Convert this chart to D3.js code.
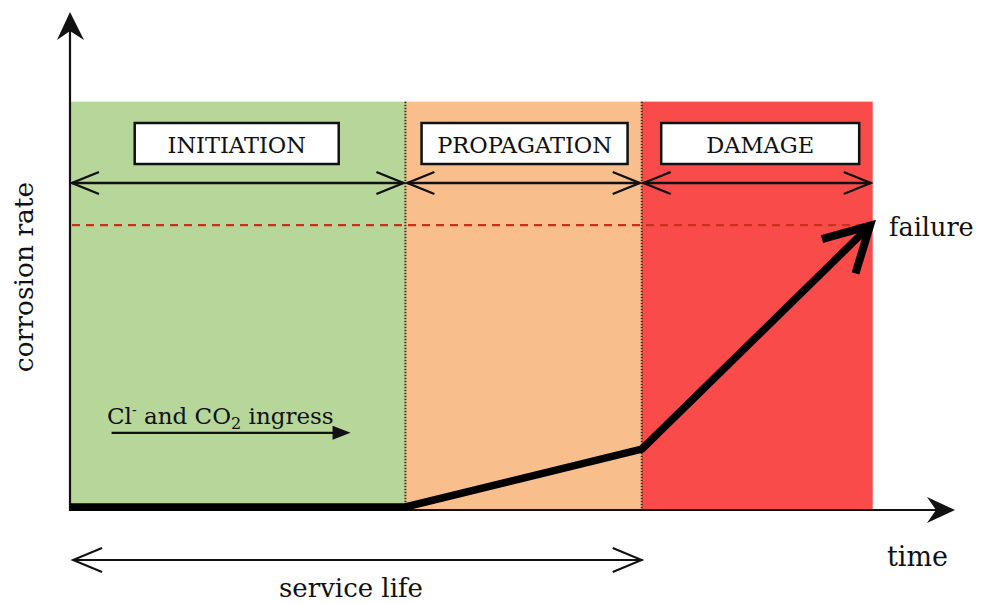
<!DOCTYPE html>
<html>
<head>
<meta charset="utf-8">
<script src="https://cdn.jsdelivr.net/npm/d3@7/dist/d3.min.js"></script>
<style>
html,body{margin:0;padding:0;background:#fff;}
svg{display:block;}
text{font-family:"DejaVu Serif","Liberation Serif",serif;fill:#111;}
</style>
</head>
<body>
<svg id="chart" width="982" height="603"></svg>
<script>
// ---- data (time and corrosion-rate in relative units) ----
const phases = ["INITIATION", "PROPAGATION", "DAMAGE"];
const phaseStart = [0.000, 0.379, 0.646];
const phaseEnd   = [0.379, 0.646, 0.907];
const phaseColors = ["#b7d699", "#f8be8c", "#fa4b4b"];
const phaseTop = 0.82;            // top of shaded area (rate units)
const failureLevel = 0.572;       // failure threshold (rate units)
const curveTime = [0.000, 0.379, 0.646, 0.904];
const curveRate = [0.000, 0.000, 0.116, 0.565];
const serviceLife = [0.000, 0.646];
const ingress = [0.047, 0.317];
const ingressRate = 0.155;

const W = 982, H = 603;
const svg = d3.select("#chart");
const x = d3.scaleLinear().domain([0, 1]).range([70, 955]);
const y = d3.scaleLinear().domain([0, 1]).range([510, 12]);

// phase regions
svg.selectAll("rect.phase").data(phases).enter().append("rect")
  .attr("x", (d,i) => x(phaseStart[i]))
  .attr("width", (d,i) => x(phaseEnd[i]) - x(phaseStart[i]))
  .attr("y", y(phaseTop))
  .attr("height", y(0) - y(phaseTop))
  .attr("fill", (d,i) => phaseColors[i]);

// dotted dividers
svg.selectAll("line.div").data(phaseStart.slice(1)).enter().append("line")
  .attr("x1", d => x(d)).attr("x2", d => x(d))
  .attr("y1", y(phaseTop)).attr("y2", y(0))
  .attr("stroke", "#3a2a1a").attr("stroke-width", 2)
  .attr("stroke-dasharray", "1.5,1.5");

// failure dashed line
svg.append("line")
  .attr("x1", x(0)+2).attr("x2", x(phaseEnd[2]))
  .attr("y1", y(failureLevel)).attr("y2", y(failureLevel))
  .attr("stroke", "#c8321a").attr("stroke-width", 2.2)
  .attr("stroke-dasharray", "8,6");

// phase label boxes
const boxW = [204, 206, 198];
phases.forEach((p, i) => {
  const cx = (x(phaseStart[i]) + x(phaseEnd[i])) / 2 + (i === 0 ? -1 : (i === 1 ? 1 : 3));
  svg.append("rect")
    .attr("x", cx - boxW[i]/2).attr("y", 123)
    .attr("width", boxW[i]).attr("height", 41)
    .attr("fill", "#fff").attr("stroke", "#111").attr("stroke-width", 2.5);
  svg.append("text").attr("x", cx).attr("y", 153)
    .attr("text-anchor", "middle").attr("font-size", 22.5).text(p);
});

// open double arrows
function openHead(g, tx, ty, dir, len, half, sw) {
  g.append("path")
    .attr("d", `M${tx + dir*len},${ty - half}L${tx},${ty}L${tx + dir*len},${ty + half}`)
    .attr("fill", "none").attr("stroke", "#111").attr("stroke-width", sw)
    .attr("stroke-linejoin", "miter");
}
function doubleArrow(x1, x2, yy, len, half, sw) {
  const g = svg.append("g");
  g.append("line").attr("x1", x1).attr("x2", x2).attr("y1", yy).attr("y2", yy)
    .attr("stroke", "#111").attr("stroke-width", sw);
  openHead(g, x1, yy, 1, len, half, sw);
  openHead(g, x2, yy, -1, len, half, sw);
}
phases.forEach((p, i) => {
  doubleArrow(x(phaseStart[i]) + 2, x(phaseEnd[i]) - 2, 183, 27, 11, 2.4);
});
doubleArrow(x(serviceLife[0]) + 3, x(serviceLife[1]), 560, 29, 12, 2);

// axes
svg.append("line").attr("x1", x(0)).attr("x2", x(0)).attr("y1", y(0)+1).attr("y2", y(1)+12)
  .attr("stroke", "#111").attr("stroke-width", 2.2);
svg.append("path")
  .attr("d", `M${x(0)},${y(1)}L${x(0)-13},${y(1)+28}L${x(0)},${y(1)+19}L${x(0)+14},${y(1)+28}Z`)
  .attr("fill", "#111");
svg.append("line").attr("x1", x(0)-1).attr("x2", x(1)-12).attr("y1", y(0)).attr("y2", y(0))
  .attr("stroke", "#111").attr("stroke-width", 2.2);
svg.append("path")
  .attr("d", `M${x(1)},${y(0)}L${x(1)-28},${y(0)-13}L${x(1)-19},${y(0)}L${x(1)-28},${y(0)+13}Z`)
  .attr("fill", "#111");

// corrosion curve
const pts = curveTime.map((t, i) => [x(t), y(curveRate[i]) - 3]);
svg.append("path")
  .attr("d", d3.line()(pts))
  .attr("fill", "none").attr("stroke", "#000").attr("stroke-width", 7.5)
  .attr("stroke-linejoin", "round");
// arrow head at the end of the curve
{
  const [tx, ty] = pts[pts.length-1];
  const [px, py] = pts[pts.length-2];
  const ang = Math.atan2(py - ty, px - tx);
  const a = 0.50, L = 50;
  const p1 = [tx + L*Math.cos(ang - a), ty + L*Math.sin(ang - a)];
  const p2 = [tx + L*Math.cos(ang + a), ty + L*Math.sin(ang + a)];
  svg.append("path")
    .attr("d", `M${p1[0]},${p1[1]}L${tx},${ty}L${p2[0]},${p2[1]}`)
    .attr("fill", "none").attr("stroke", "#000").attr("stroke-width", 8)
    .attr("stroke-linejoin", "miter").attr("stroke-linecap", "butt");
}

// ingress arrow
svg.append("line").attr("x1", x(ingress[0])).attr("x2", x(ingress[1]) - 14)
  .attr("y1", y(ingressRate)).attr("y2", y(ingressRate))
  .attr("stroke", "#111").attr("stroke-width", 2.2);
svg.append("path")
  .attr("d", `M${x(ingress[1])},${y(ingressRate)}L${x(ingress[1])-18},${y(ingressRate)-7}L${x(ingress[1])-18},${y(ingressRate)+7}Z`)
  .attr("fill", "#111");

const ing = svg.append("text").attr("x", 107).attr("y", 424).attr("font-size", 23);
ing.append("tspan").text("Cl");
ing.append("tspan").attr("font-size", 14).attr("dy", -9).text("-");
ing.append("tspan").attr("dy", 9).text(" and CO");
ing.append("tspan").attr("font-size", 16).attr("dy", 5).text("2");
ing.append("tspan").attr("dy", -5).text(" ingress");

// axis labels
svg.append("text").attr("x", 889).attr("y", 236).attr("font-size", 25.5).text("failure");
svg.append("text").attr("x", 887).attr("y", 566).attr("font-size", 27).text("time");
svg.append("text").attr("x", 351).attr("y", 597).attr("text-anchor", "middle").attr("font-size", 26).text("service life");
svg.append("text").attr("transform", "translate(33,277) rotate(-90)")
  .attr("text-anchor", "middle").attr("font-size", 26.5).text("corrosion rate");
</script>
</body>
</html>
